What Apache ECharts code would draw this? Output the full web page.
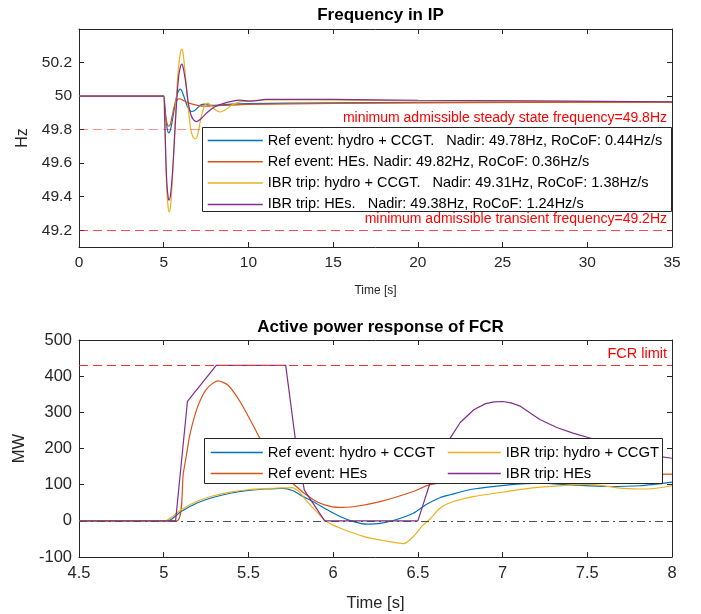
<!DOCTYPE html>
<html>
<head>
<meta charset="utf-8">
<script src="https://cdn.jsdelivr.net/npm/echarts@6/dist/echarts.min.js"></script>
<style>html,body{margin:0;padding:0;background:#fff;}#c{width:701px;height:614px;}</style>
</head>
<body>
<div id="c"></div>
<script>
// ---- Data ----
var topTitle = 'Frequency in IP';
var bottomTitle = 'Active power response of FCR';
var freqNames = [
  'Ref event: hydro + CCGT.   Nadir: 49.78Hz, RoCoF: 0.44Hz/s',
  'Ref event: HEs. Nadir: 49.82Hz, RoCoF: 0.36Hz/s',
  'IBR trip: hydro + CCGT.   Nadir: 49.31Hz, RoCoF: 1.38Hz/s',
  'IBR trip: HEs.   Nadir: 49.38Hz, RoCoF: 1.24Hz/s'
];
var powerNames = [
  'Ref event: hydro + CCGT',
  'Ref event: HEs',
  'IBR trip: hydro + CCGT',
  'IBR trip: HEs'
];
var freqTicks = [49.2, 49.4, 49.6, 49.8, 50, 50.2];
var steadyLimit = 49.8;
var transientLimit = 49.2;
var fcrLimit = 430;

var freqRefHydro = [[0,50],[5,50],[5.05,49.96],[5.1,49.9],[5.2,49.81],[5.3,49.78],[5.4,49.8],[5.5,49.85],[5.6,49.91],[5.7,49.97],[5.8,50.01],[5.9,50.035],[5.97,50.042],[6.05,50.035],[6.2,49.995],[6.35,49.95],[6.5,49.92],[6.65,49.908],[6.8,49.912],[7.0,49.93],[7.2,49.948],[7.4,49.952],[7.6,49.948],[8,49.945],[9,49.952],[10,49.955],[15,49.96],[20,49.962],[35,49.965]];
var freqRefHEs = [[0,50],[5,50],[5.05,49.95],[5.1,49.89],[5.2,49.835],[5.3,49.82],[5.4,49.835],[5.5,49.88],[5.6,49.93],[5.7,49.96],[5.8,49.978],[5.9,49.984],[6.0,49.982],[6.2,49.972],[6.5,49.958],[7,49.945],[7.5,49.94],[8.5,49.944],[10,49.95],[15,49.956],[20,49.96],[35,49.963]];
var freqIbrHydro = [[0,50],[5,50],[5.05,49.88],[5.1,49.7],[5.15,49.52],[5.2,49.41],[5.27,49.33],[5.33,49.31],[5.4,49.34],[5.5,49.48],[5.6,49.68],[5.7,49.9],[5.8,50.08],[5.9,50.2],[6.0,50.265],[6.07,50.28],[6.15,50.25],[6.3,50.1],[6.45,49.93],[6.6,49.8],[6.75,49.752],[6.9,49.745],[7.05,49.79],[7.2,49.87],[7.4,49.94],[7.6,49.958],[7.8,49.943],[8.0,49.922],[8.3,49.905],[8.6,49.915],[9.0,49.945],[9.5,49.965],[10,49.972],[12,49.978],[20,49.972],[35,49.965]];
var freqIbrHEs = [[0,50],[5,50],[5.05,49.9],[5.1,49.72],[5.15,49.56],[5.2,49.46],[5.27,49.39],[5.32,49.38],[5.4,49.41],[5.5,49.52],[5.6,49.68],[5.7,49.86],[5.8,50.02],[5.9,50.13],[6.0,50.18],[6.07,50.19],[6.15,50.17],[6.3,50.08],[6.45,49.96],[6.6,49.89],[6.75,49.86],[6.95,49.848],[7.2,49.865],[7.6,49.905],[8,49.935],[8.5,49.955],[9,49.968],[9.5,49.976],[10,49.97],[10.5,49.973],[11,49.98],[15,49.98],[20,49.975],[35,49.966]];

var powRefHydro = [[4.5,0],[5.025,0],[5.1,25],[5.2,50],[5.3,66],[5.4,77],[5.5,84],[5.6,88],[5.7,90],[5.76,84],[5.824,67],[5.883,53],[5.96,32],[6.04,12],[6.12,-2],[6.2,-9],[6.28,-7],[6.37,3],[6.473,21],[6.552,46],[6.63,64],[6.69,72],[6.828,88],[7.025,99],[7.22,104],[7.418,99],[7.615,95],[7.81,97],[8,107]];
var powRefHEs = [[4.5,0],[5.077,0],[5.116,132],[5.136,187],[5.155,240],[5.2,315],[5.254,365],[5.32,387],[5.38,375],[5.45,330],[5.53,262],[5.568,228],[5.65,160],[5.765,102],[5.883,58],[5.95,44],[6.03,37],[6.12,39],[6.277,53],[6.473,81],[6.572,100],[6.8,112],[7.2,120],[7.6,126],[8,129]];
var powIbrHydro = [[4.5,0],[5.007,0],[5.1,30],[5.2,55],[5.3,70],[5.4,80],[5.5,86],[5.6,89],[5.7,91],[5.755,92],[5.8,80],[5.843,55],[5.9,26],[5.96,-2],[6.04,-20],[6.178,-43],[6.3,-55],[6.415,-63],[6.474,-43],[6.53,-12],[6.572,5],[6.63,35],[6.7,52],[6.828,67],[7.025,81],[7.22,93],[7.51,101],[7.71,90],[7.85,88],[8,97]];
var powIbrHEs = [[4.5,0],[5.07,0],[5.14,330],[5.31,430],[5.72,430],[5.78,215],[5.83,85],[5.95,0],[6.5,0],[6.57,102],[6.62,170],[6.69,228],[6.75,272],[6.83,307],[6.9,324],[6.95,329],[7.0,330],[7.05,326],[7.1,318],[7.22,280],[7.32,258],[7.42,242],[7.5,231],[7.6,218],[7.7,204],[7.8,192],[7.92,178],[8,173]];

var colors = ['#0072BD', '#D95319', '#EDB120', '#7E2F8E'];

// ---- Chart ----
var FONT = '"Liberation Sans", Helvetica, Arial, sans-serif';
var AX = '#262626';
var chart = echarts.init(document.getElementById('c'), null, {renderer: 'canvas'});

function xAx(grid, min, max, interval, name, nameSize, labelSize, pos, showLabel) {
  return {
    type: 'value', gridIndex: grid, min: min, max: max, interval: interval, position: pos,
    axisLine: {show: true, onZero: false, lineStyle: {color: AX, width: 1}},
    axisTick: {show: true, inside: true, length: 5, lineStyle: {color: AX}},
    axisLabel: {show: showLabel, color: AX, fontSize: labelSize, fontFamily: FONT, margin: 8},
    splitLine: {show: false},
    name: showLabel ? name : '', nameLocation: 'middle', nameGap: 38,
    nameTextStyle: {color: AX, fontSize: nameSize, fontFamily: FONT}
  };
}

var yTop = {
  type: 'value', gridIndex: 0, min: 49.1, max: 50.4, position: 'left',
  axisLine: {show: true, onZero: false, lineStyle: {color: AX, width: 1}},
  axisTick: {show: true, inside: true, length: 5, lineStyle: {color: AX}, customValues: freqTicks},
  axisLabel: {show: true, color: AX, fontSize: 15.5, fontFamily: FONT, margin: 7, customValues: freqTicks,
    formatter: function (v) { return String(+(+v).toFixed(1)); }},
  splitLine: {show: false},
  name: 'Hz', nameLocation: 'middle', nameGap: 46,
  nameTextStyle: {color: AX, fontSize: 16, fontFamily: FONT}
};
var yTopR = {
  type: 'value', gridIndex: 0, min: 49.1, max: 50.4, position: 'right',
  axisLine: {show: true, onZero: false, lineStyle: {color: AX, width: 1}},
  axisTick: {show: true, inside: true, length: 5, lineStyle: {color: AX}, customValues: freqTicks},
  axisLabel: {show: false, customValues: freqTicks},
  splitLine: {show: false}
};
var yBot = {
  type: 'value', gridIndex: 1, min: -100, max: 500, interval: 100, position: 'left',
  axisLine: {show: true, onZero: false, lineStyle: {color: AX, width: 1}},
  axisTick: {show: true, inside: true, length: 5, lineStyle: {color: AX}},
  axisLabel: {show: true, color: AX, fontSize: 16.5, fontFamily: FONT, margin: 7},
  splitLine: {show: false},
  name: 'MW', nameLocation: 'middle', nameGap: 46,
  nameTextStyle: {color: AX, fontSize: 16.5, fontFamily: FONT}
};
var yBotR = {
  type: 'value', gridIndex: 1, min: -100, max: 500, interval: 100, position: 'right',
  axisLine: {show: true, onZero: false, lineStyle: {color: AX, width: 1}},
  axisTick: {show: true, inside: true, length: 5, lineStyle: {color: AX}},
  axisLabel: {show: false},
  splitLine: {show: false}
};

function lineSeries(name, data, color, xi, yi, smooth) {
  return {
    name: name, type: 'line', data: data, xAxisIndex: xi, yAxisIndex: yi,
    symbol: 'none', smooth: smooth, clip: true,
    lineStyle: {color: color, width: 1.2}, itemStyle: {color: color},
    z: 3, animation: false
  };
}

var redLbl = {color: '#ff0000', fontSize: 14, fontFamily: FONT, position: 'insideEndTop', distance: [5, 4]};

var series = [
  {
    name: 'refTop', type: 'line', data: [], xAxisIndex: 0, yAxisIndex: 0, z: 2,
    markLine: {
      silent: true, symbol: 'none', animation: false,
      data: [
        {yAxis: steadyLimit, lineStyle: {color: 'rgba(255,0,0,0.42)', type: [9, 5], width: 1.2},
          label: Object.assign({formatter: 'minimum admissible steady state frequency=49.8Hz'}, redLbl)},
        {yAxis: transientLimit, lineStyle: {color: 'rgba(255,0,0,0.7)', type: [9, 5], width: 1.2},
          label: Object.assign({formatter: 'minimum admissible transient frequency=49.2Hz'}, redLbl)}
      ]
    }
  },
  lineSeries(freqNames[0], freqRefHydro, colors[0], 0, 0, 0.3),
  lineSeries(freqNames[1], freqRefHEs, colors[1], 0, 0, 0.3),
  lineSeries(freqNames[2], freqIbrHydro, colors[2], 0, 0, 0.3),
  lineSeries(freqNames[3], freqIbrHEs, colors[3], 0, 0, 0.3),
  {
    name: 'refBot', type: 'line', data: [], xAxisIndex: 2, yAxisIndex: 2, z: 2,
    markLine: {
      silent: true, symbol: 'none', animation: false,
      data: [
        {yAxis: fcrLimit, lineStyle: {color: '#ff3030', type: [9, 5], width: 1.1},
          label: Object.assign({formatter: 'FCR limit'}, redLbl, {fontSize: 14.5})},
        {yAxis: 0, lineStyle: {color: '#505050', type: [8, 4, 2, 4], width: 1.1}, label: {show: false}}
      ]
    }
  },
  lineSeries(powerNames[0], powRefHydro, colors[0], 2, 2, 0.25),
  lineSeries(powerNames[1], powRefHEs, colors[1], 2, 2, 0.25),
  lineSeries(powerNames[2], powIbrHydro, colors[2], 2, 2, 0.25),
  lineSeries(powerNames[3], powIbrHEs, colors[3], 2, 2, false)
];

var legendText = {color: '#000', fontFamily: FONT};
var legendCommon = {orient: 'vertical', itemHeight: 14, z: 10, selectedMode: false,
  itemStyle: {opacity: 0, borderWidth: 0}, lineStyle: {width: 1.5}};

chart.setOption({
  backgroundColor: '#fff',
  animation: false,
  title: [
    {text: topTitle, left: 375.5, top: 2, textAlign: 'center',
      textStyle: {fontSize: 17, fontWeight: 'bold', color: '#000', fontFamily: FONT}},
    {text: bottomTitle, left: 375.5, top: 314, textAlign: 'center',
      textStyle: {fontSize: 17, fontWeight: 'bold', color: '#000', fontFamily: FONT}}
  ],
  grid: [
    {left: 79, top: 29, width: 593, height: 218},
    {left: 79, top: 340, width: 593, height: 217}
  ],
  xAxis: [
    xAx(0, 0, 35, 5, 'Time [s]', 12, 15.5, 'bottom', true),
    xAx(0, 0, 35, 5, '', 12, 15.5, 'top', false),
    xAx(1, 4.5, 8, 0.5, 'Time [s]', 16.5, 16.5, 'bottom', true),
    xAx(1, 4.5, 8, 0.5, '', 16.5, 16.5, 'top', false)
  ],
  yAxis: [yTop, yTopR, yBot, yBotR],
  legend: [
    Object.assign({data: freqNames, left: 202, top: 127, padding: [6, 5, 6, 5],
      itemWidth: 55, itemGap: 6.3, textStyle: Object.assign({fontSize: 14.5}, legendText)}, legendCommon),
    Object.assign({data: [powerNames[0], powerNames[1]], left: 204, top: 438, padding: [7, 5, 7, 6],
      itemWidth: 52, itemGap: 6, textStyle: Object.assign({fontSize: 14.8}, legendText)}, legendCommon),
    Object.assign({data: [powerNames[2], powerNames[3]], left: 447, top: 438, padding: [7, 5, 7, 0],
      itemWidth: 53, itemGap: 6, textStyle: Object.assign({fontSize: 14.8}, legendText)}, legendCommon)
  ],
  graphic: [
    {type: 'rect', z: 8, shape: {x: 202.5, y: 127.5, width: 469, height: 84},
      style: {fill: '#fff', stroke: '#262626', lineWidth: 1}},
    {type: 'rect', z: 8, shape: {x: 204.5, y: 438.5, width: 458, height: 45},
      style: {fill: '#fff', stroke: '#262626', lineWidth: 1}}
  ],
  series: series
});
</script>
</body>
</html>
